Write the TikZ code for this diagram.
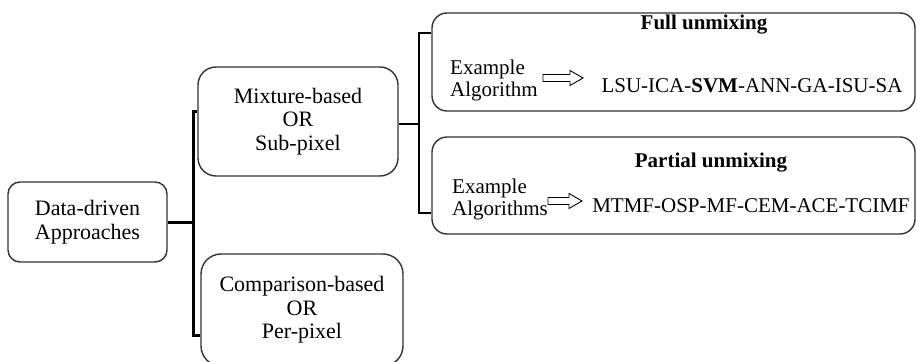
\documentclass[tikz,border=0pt]{standalone}
\usepackage{fontspec}
\setmainfont{Liberation Serif}
\begin{document}
\begin{tikzpicture}[x=1pt,y=-1pt,
  box/.style={draw=black!80, line width=1.4pt, align=center, inner sep=0pt, font=\fontsize{22}{23.5}\selectfont},
  txt/.style={inner sep=0pt, font=\fontsize{21}{22}\selectfont},
  brk/.style={line width=3pt},
  brk2/.style={line width=2.2pt},
  hollow/.style={draw, fill=white, line width=0.9pt, line join=miter}]
\useasboundingbox (0,0) rectangle (917,361);
\clip (0,0) rectangle (917,361);
% boxes
\node[box, rounded corners=12pt, minimum width=159pt, minimum height=80pt] (data) at (87.5,222) {Data-driven\\Approaches};
\node[box, rounded corners=18pt, minimum width=200pt, minimum height=109pt] (mix) at (298,121.5) {Mixture-based\\OR\\Sub-pixel};
\node[box, rounded corners=20pt, minimum width=202pt, minimum height=112pt] (cmp) at (302,310) {Comparison-based\\OR\\Per-pixel};
\node[box, rounded corners=15pt, minimum width=483pt, minimum height=98pt] (full) at (673.5,62) {};
\node[box, rounded corners=15pt, minimum width=483pt, minimum height=97pt] (part) at (673.5,185.5) {};
% full unmixing content
\node[txt, anchor=base, font=\fontsize{21}{22}\selectfont\bfseries] (ft) at (704,30) {Full unmixing};
\node[txt, anchor=base west, align=left] (fe) at (450,96) {Example\\Algorithm};
\coordinate (fa) at (563,78);
\draw[hollow, shift={(fa)}] (-20,-3.5) -- (7,-3.5) -- (7,-7.5) -- (20,0) -- (7,7.5) -- (7,3.5) -- (-20,3.5) -- cycle;
\node[txt, anchor=base] (fl) at (752,92) {LSU-ICA-\textbf{SVM}-ANN-GA-ISU-SA};
% partial unmixing content
\node[txt, anchor=base, font=\fontsize{21}{22}\selectfont\bfseries] (pt) at (711,167) {Partial unmixing};
\node[txt, anchor=base west, align=left] (pe) at (452,215) {Example\\Algorithms};
\coordinate (pa) at (565,201);
\draw[hollow, shift={(pa)}] (-17,-3.5) -- (4,-3.5) -- (4,-7.5) -- (17,0) -- (4,7.5) -- (4,3.5) -- (-17,3.5) -- cycle;
\node[txt, anchor=base] (pl) at (751,212) {MTMF-OSP-MF-CEM-ACE-TCIMF};
% left bracket
\coordinate (tl) at (193,111);
\coordinate (bl) at (193,335);
\coordinate (ml) at (193,222);
\draw[brk] (data.east |- ml) -- (ml);
\draw[brk] (tl -| mix.west) -- (tl) -- (bl) -- (bl -| cmp.west);
% right bracket
\coordinate (tr) at (419,33);
\coordinate (br) at (419,213);
\coordinate (mr) at (419,124);
\draw[brk2] (mix.east |- mr) -- (mr);
\draw[brk2] (tr -| full.west) -- (tr) -- (br) -- (br -| part.west);
\end{tikzpicture}
\end{document}
